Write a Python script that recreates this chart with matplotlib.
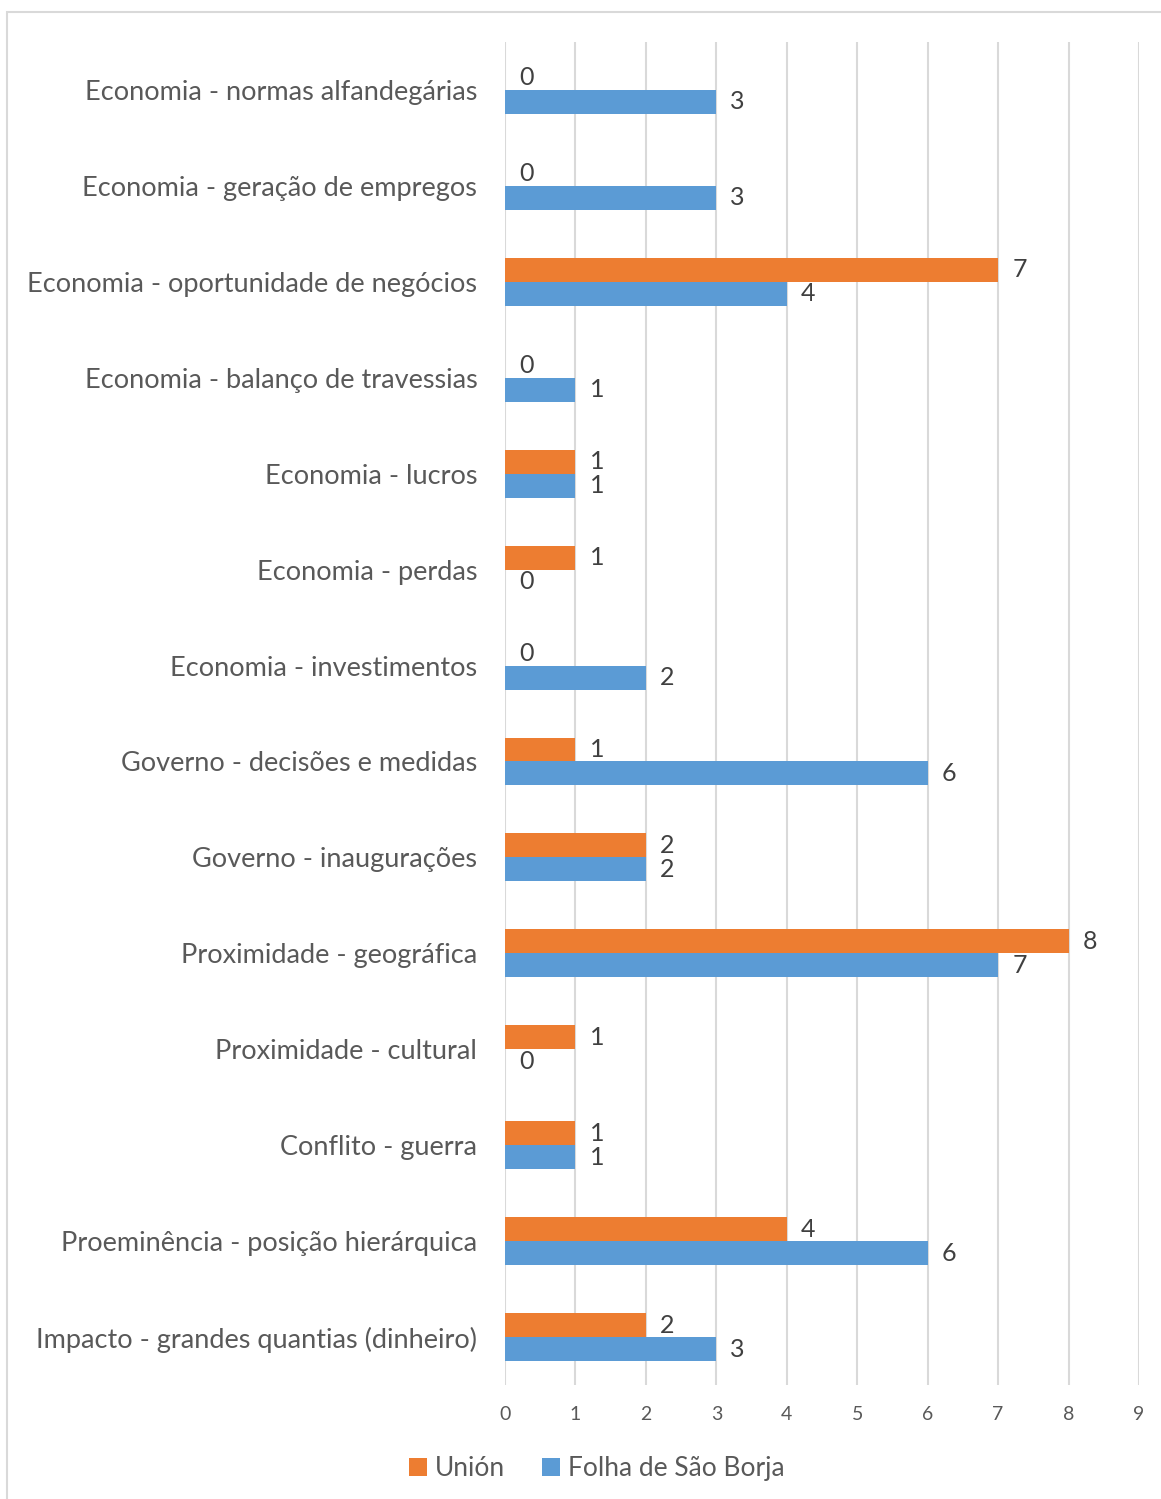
import numpy as np
import matplotlib.pyplot as plt
from matplotlib.patches import Rectangle

plt.rcParams['font.family'] = ['Lato', 'DejaVu Sans']

categories = ['Economia - normas alfandegárias', 'Economia - geração de empregos',
              'Economia - oportunidade de negócios', 'Economia - balanço de travessias',
              'Economia - lucros', 'Economia - perdas', 'Economia - investimentos',
              'Governo - decisões e medidas', 'Governo - inaugurações',
              'Proximidade - geográfica', 'Proximidade - cultural', 'Conflito - guerra',
              'Proeminência - posição hierárquica', 'Impacto - grandes quantias (dinheiro)']
union = [0, 0, 7, 0, 1, 1, 0, 1, 2, 8, 1, 1, 4, 2]
folha = [3, 3, 4, 1, 1, 0, 2, 6, 2, 7, 0, 1, 6, 3]

orange = '#ED7D31'
blue = '#5B9BD5'

fig = plt.figure(figsize=(11.61, 14.99), dpi=100)
ax = fig.add_axes([0.435, 0.076, 0.546, 0.896])

y = np.arange(len(categories))
h = 0.25
ax.barh(y - h / 2, union, height=h, color=orange, label='Unión')
ax.barh(y + h / 2, folha, height=h, color=blue, label='Folha de São Borja')

# value labels
for yi, u, f in zip(y, union, folha):
    ax.text(u + 0.2, yi - h / 2, str(u), va='center', ha='left', fontsize=18, color='#404040')
    ax.text(f + 0.2, yi + h / 2, str(f), va='center', ha='left', fontsize=18, color='#404040')

ax.set_ylim(len(categories) - 0.5, -0.5)
ax.set_xlim(0, 9)
ax.set_xticks(range(10))
ax.set_yticks(y)
ax.set_yticklabels(categories, fontsize=19.5, color='#595959')
ax.tick_params(axis='x', labelsize=14, labelcolor='#595959', length=0, pad=15)
ax.tick_params(axis='y', length=0, pad=20)
ax.grid(axis='x', color='#D9D9D9', linewidth=1.5)
ax.set_axisbelow(True)
for s in ax.spines.values():
    s.set_visible(False)

fig.legend(loc='lower center', bbox_to_anchor=(0.514, -0.004), ncol=2, frameon=False,
           fontsize=19, labelcolor='#595959', handlelength=0.7, handleheight=0.7,
           handletextpad=0.3, columnspacing=1.4)

# chart frame
fig.patches.append(Rectangle((0.006, -0.01), 1.2, 1.002, transform=fig.transFigure,
                             fill=False, edgecolor='#D9D9D9', linewidth=1.5))

fig.savefig('out.png', dpi=100)
